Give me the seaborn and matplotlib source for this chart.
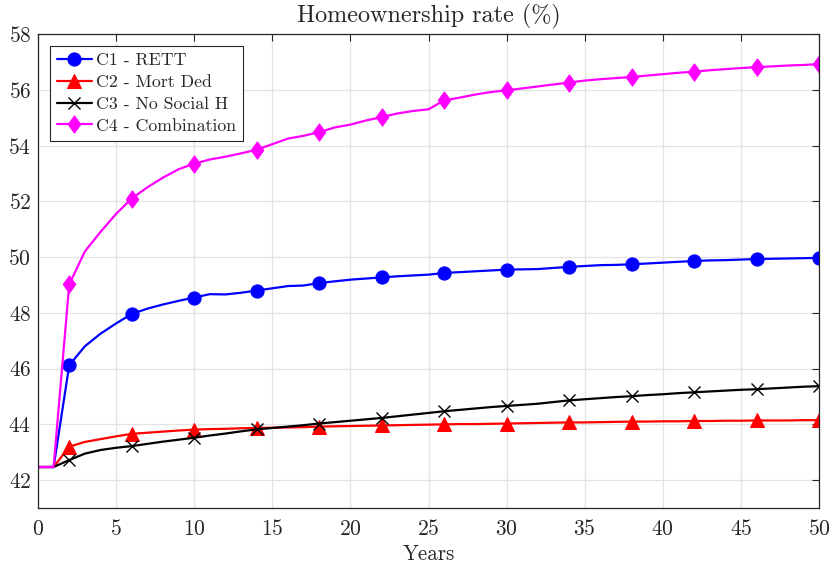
import numpy as np
import pandas as pd
import matplotlib
matplotlib.use("Agg")
import matplotlib.pyplot as plt
import seaborn as sns

years = list(range(0, 51))
c1_rett = [42.47, 42.47, 46.12, 46.80, 47.25, 47.62, 47.96, 48.15, 48.30, 48.43,
           48.55, 48.67, 48.66, 48.72, 48.80, 48.88, 48.96, 48.98, 49.07, 49.13,
           49.19, 49.23, 49.27, 49.31, 49.34, 49.37, 49.43, 49.46, 49.49, 49.52,
           49.55, 49.56, 49.57, 49.61, 49.65, 49.68, 49.71, 49.72, 49.74, 49.77,
           49.80, 49.83, 49.86, 49.88, 49.89, 49.91, 49.93, 49.94, 49.95, 49.96, 49.97]
c2_mortded = [42.47, 42.47, 43.20, 43.37, 43.47, 43.57, 43.66, 43.70, 43.74, 43.78,
              43.81, 43.83, 43.84, 43.86, 43.87, 43.88, 43.89, 43.90, 43.92, 43.93,
              43.94, 43.95, 43.96, 43.97, 43.98, 43.99, 44.00, 44.01, 44.01, 44.02,
              44.03, 44.04, 44.05, 44.06, 44.07, 44.07, 44.08, 44.09, 44.10, 44.10,
              44.11, 44.11, 44.12, 44.12, 44.13, 44.13, 44.14, 44.14, 44.14, 44.15, 44.15]
c3_nosocial = [42.47, 42.47, 42.72, 42.95, 43.08, 43.16, 43.22, 43.30, 43.38, 43.45,
               43.52, 43.60, 43.67, 43.75, 43.82, 43.87, 43.92, 43.97, 44.03, 44.08,
               44.13, 44.18, 44.23, 44.29, 44.35, 44.41, 44.47, 44.52, 44.57, 44.62,
               44.66, 44.70, 44.74, 44.80, 44.86, 44.90, 44.94, 44.98, 45.01, 45.05,
               45.08, 45.12, 45.15, 45.18, 45.21, 45.24, 45.26, 45.29, 45.32, 45.35, 45.37]
c4_combo = [42.47, 42.47, 49.02, 50.20, 50.90, 51.55, 52.10, 52.50, 52.85, 53.15,
            53.35, 53.50, 53.60, 53.72, 53.85, 54.05, 54.25, 54.35, 54.48, 54.65,
            54.75, 54.90, 55.02, 55.15, 55.24, 55.30, 55.62, 55.72, 55.83, 55.92,
            55.98, 56.05, 56.12, 56.19, 56.26, 56.33, 56.38, 56.42, 56.46, 56.51,
            56.56, 56.61, 56.65, 56.70, 56.74, 56.78, 56.81, 56.84, 56.87, 56.89, 56.92]

labels = ["C1 - RETT", "C2 - Mort Ded", "C3 - No Social H", "C4 - Combination"]
series = [c1_rett, c2_mortded, c3_nosocial, c4_combo]

sns.set_style("white")
plt.rcParams['font.family'] = ['cmr10', 'DejaVu Serif']
plt.rcParams['axes.formatter.use_mathtext'] = True
plt.rcParams['mathtext.fontset'] = 'cm'

fig = plt.figure(figsize=(8.31, 5.69), dpi=100)
ax = fig.add_axes([0.0457, 0.1072, 0.9399, 0.8330])

diamond = [(0, 1), (0.72, 0), (0, -1), (-0.72, 0), (0, 1)]
styles = [
    dict(color="#0000ff", marker="o", markersize=9.5, mfc="#0000ff", mec="#0000ff"),
    dict(color="#ff0000", marker="^", markersize=10.5, mfc="#ff0000", mec="#ff0000"),
    dict(color="#000000", marker="x", markersize=9, mfc="#000000", mec="#000000", mew=1.0),
    dict(color="#ff00ff", marker=diamond, markersize=12.5, mfc="#ff00ff", mec="#ff00ff"),
]

for lab, vals, st in zip(labels, series, styles):
    df = pd.DataFrame({"Years": years, "rate": vals})
    sns.lineplot(data=df, x="Years", y="rate", ax=ax, linewidth=1.6,
                 markevery=slice(2, None, 4), label=lab, legend=False, **st)

ax.set_xlim(0, 50)
ax.set_ylim(41, 58)
ax.set_xticks(range(0, 51, 5))
ax.set_yticks(range(42, 59, 2))
ax.grid(True, color="#e3e3e3", linewidth=0.9)
ax.set_axisbelow(True)
for s in ax.spines.values():
    s.set_color("#262626")
    s.set_linewidth(0.9)
ax.tick_params(direction="in", top=True, right=True, length=5, width=0.8,
               color="#262626", labelsize=15.5)
ax.tick_params(axis="x", pad=8)
ax.tick_params(axis="y", pad=5)
ax.set_xlabel("Years", fontsize=15.2, labelpad=4)
ax.set_ylabel("")
ax.set_title("Homeownership rate (%)", fontsize=17.4, pad=8)

handles = ax.get_lines()[:4]
leg = ax.legend(handles, labels, loc="upper left", fontsize=12.8, frameon=True,
                fancybox=False, edgecolor="#262626", framealpha=1,
                borderpad=0.4, handlelength=2.0, handletextpad=0.2,
                labelspacing=0.36, borderaxespad=0.65)
leg.get_frame().set_linewidth(0.8)

fig.savefig("out.png", dpi=100)
